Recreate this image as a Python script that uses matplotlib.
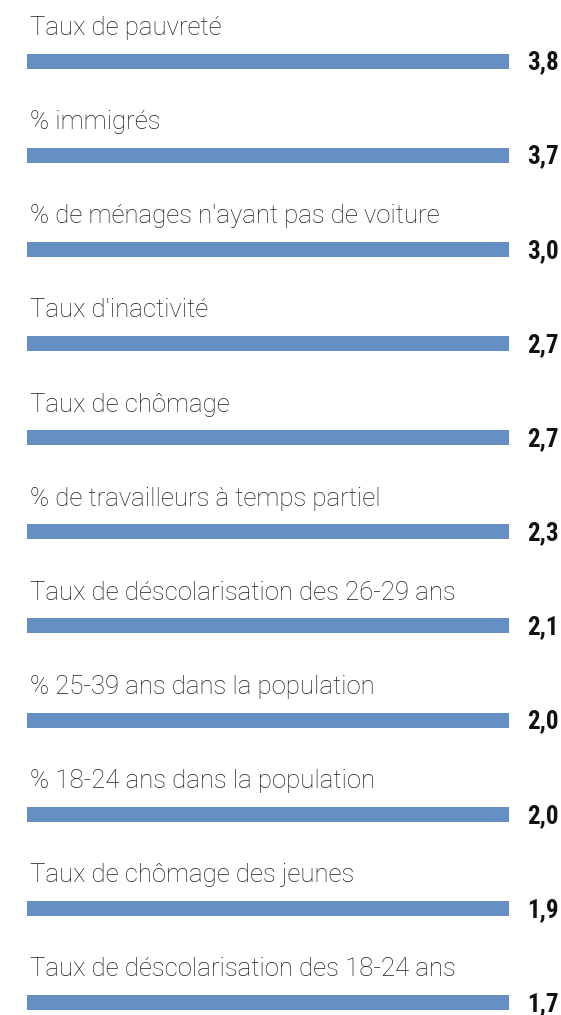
import matplotlib

matplotlib.use("Agg")

import matplotlib.pyplot as plt  # noqa: E402

labels = [
    "Taux de pauvreté",
    "% immigrés",
    "% de ménages n'ayant pas de voiture",
    "Taux d'inactivité",
    "Taux de chômage",
    "% de travailleurs à temps partiel",
    "Taux de déscolarisation des 26-29 ans",
    "% 25-39 ans dans la population",
    "% 18-24 ans dans la population",
    "Taux de chômage des jeunes",
    "Taux de déscolarisation des 18-24 ans",
]
values = [3.8, 3.7, 3.0, 2.7, 2.7, 2.3, 2.1, 2.0, 2.0, 1.9, 1.7]

W, H = 561, 1015
BAR_COLOR = "#6690c4"

fig = plt.figure(figsize=(W / 100, H / 100), dpi=100)
fig.patch.set_facecolor("white")

# each indicator gets its own strip, scaled to its own value
x0, x1 = 27, 509
bar_h = 15
first_center, pitch = 61, 94.15

for i, (lab, val) in enumerate(zip(labels, values)):
    yc = first_center + i * pitch
    ax = fig.add_axes([x0 / W, (H - yc - bar_h / 2) / H,
                       (x1 - x0) / W, bar_h / H])
    ax.barh(0, val, height=1.0, color=BAR_COLOR, linewidth=0)
    ax.set_xlim(0, val)
    ax.set_ylim(-0.5, 0.5)
    ax.axis("off")

    fig.text(30 / W, (H - (yc - 26)) / H, lab, fontsize=18.5,
             family="Roboto", weight="light", color="#1e1e1e",
             va="baseline", ha="left")
    fig.text(527 / W, (H - yc - 1.5) / H, f"{val:.1f}".replace(".", ","),
             fontsize=18, family=["Roboto Condensed", "Roboto"],
             weight="bold", color="#111111", va="center", ha="left")

fig.savefig("out.png", dpi=100)
plt.close(fig)
